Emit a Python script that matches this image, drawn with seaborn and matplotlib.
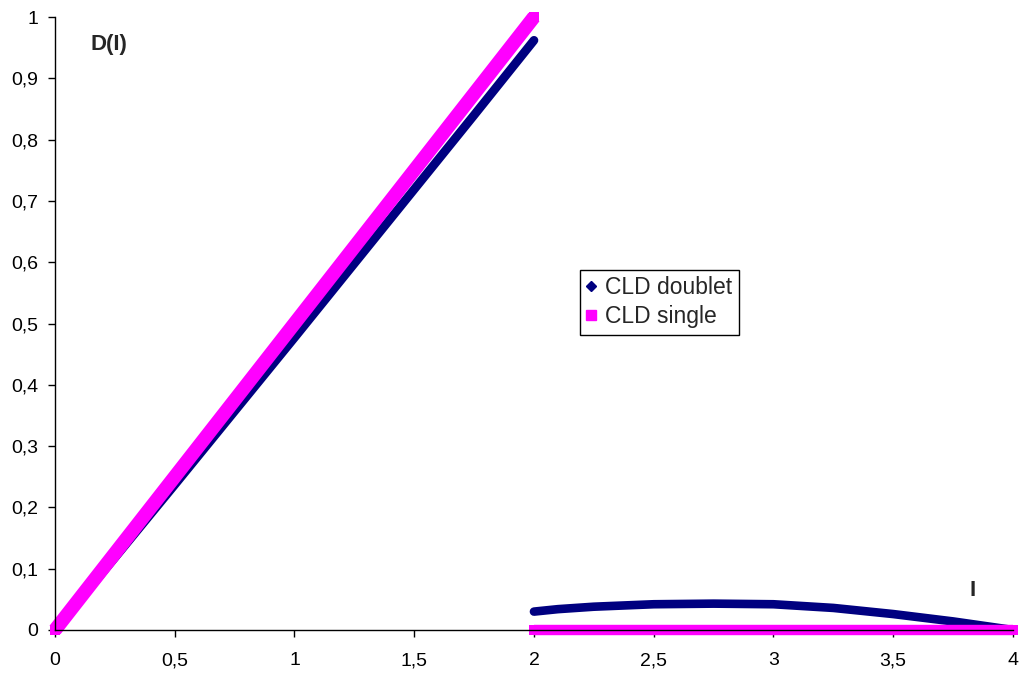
import numpy as np
import pandas as pd
import matplotlib
matplotlib.use("Agg")
import matplotlib.pyplot as plt
from matplotlib.lines import Line2D
from matplotlib.ticker import FuncFormatter, MultipleLocator
import seaborn as sns

# ── Données ──────────────────────────────────────────────────────────────────
# CLD doublet : deux branches (saut en I = 2)
doublet_x1 = [0.0, 0.25, 0.5, 0.75, 1.0, 1.25, 1.5, 1.75, 2.0]
doublet_y1 = [0.0, 0.118, 0.237, 0.357, 0.477, 0.598, 0.719, 0.840, 0.962]
doublet_x2 = [2.0, 2.1, 2.25, 2.5, 2.75, 3.0, 3.25, 3.5, 3.75, 4.0]
doublet_y2 = [0.030, 0.034, 0.038, 0.042, 0.043, 0.042, 0.036, 0.026, 0.014, 0.0]

# CLD single : droite jusqu'à 2 puis nulle
single_x1 = [0.0, 0.5, 1.0, 1.5, 2.0]
single_y1 = [0.0, 0.25, 0.5, 0.75, 1.0]
single_x2 = [2.0, 2.5, 3.0, 3.5, 4.0]
single_y2 = [0.0, 0.0, 0.0, 0.0, 0.0]

NAVY = "#000080"
MAGENTA = "#FF00FF"


def frame(name, segs):
    rows = []
    for k, (xs, ys) in enumerate(segs):
        rows += [{"serie": name, "seg": k, "I": x, "D": y} for x, y in zip(xs, ys)]
    return pd.DataFrame(rows)


df_doublet = frame("CLD doublet", [(doublet_x1, doublet_y1), (doublet_x2, doublet_y2)])
df_single = frame("CLD single", [(single_x1, single_y1), (single_x2, single_y2)])

sns.set_theme(style="white")
plt.rcParams["font.family"] = ["Liberation Sans", "DejaVu Sans"]

fig = plt.figure(figsize=(10.24, 6.73), dpi=100)
ax = fig.add_axes([0.0537, 0.0639, 0.9355, 0.9108])

# ── Courbes (bandes épaisses comme les marqueurs serrés d'Excel) ─────────────
# la bande diagonale paraît plus large que l'horizontale (marqueurs carrés)
sns.lineplot(data=df_doublet, x="I", y="D", units="seg", estimator=None, sort=False,
             color=NAVY, size="seg", sizes={0: 6.3, 1: 6.2}, ax=ax, legend=False,
             solid_capstyle="round", clip_on=False)
sns.lineplot(data=df_single, x="I", y="D", units="seg", estimator=None, sort=False,
             color=MAGENTA, size="seg", sizes={0: 10.0, 1: 7.5}, ax=ax, legend=False,
             solid_capstyle="butt", clip_on=False)
# extrémités carrées (marqueurs alignés sur les axes)
for xs, ys in [(single_x1, single_y1), (single_x2, single_y2)]:
    ax.plot([xs[0], xs[-1]], [ys[0], ys[-1]], linestyle="none", marker="s",
            markersize=7.5, color=MAGENTA, markeredgewidth=0, clip_on=False)

# ── Axes ─────────────────────────────────────────────────────────────────────
ax.set_xlim(0, 4)
ax.set_ylim(0, 1)
ax.xaxis.set_major_locator(MultipleLocator(0.5))
ax.yaxis.set_major_locator(MultipleLocator(0.1))
fmt = FuncFormatter(lambda v, p: f"{v:g}".replace(".", ","))
ax.xaxis.set_major_formatter(fmt)
ax.yaxis.set_major_formatter(fmt)
ax.set_xlabel("")
ax.set_ylabel("")
for side in ("top", "right"):
    ax.spines[side].set_visible(False)
for side in ("left", "bottom"):
    ax.spines[side].set_color("black")
    ax.spines[side].set_linewidth(1.0)
ax.tick_params(axis="both", which="major", direction="out", length=5, width=1,
               color="black", labelsize=14, labelcolor="black",
               bottom=True, left=True)
ax.tick_params(axis="x", pad=11)
ax.tick_params(axis="y", pad=7)

ax.text(0.225, 0.955, "D(I)", fontsize=16, fontweight="bold",
        ha="center", va="center")
ax.text(3.83, 0.065, "I", fontsize=16, fontweight="bold",
        ha="center", va="center")

# ── Légende ──────────────────────────────────────────────────────────────────
handles = [
    Line2D([], [], linestyle="none", marker="D", markersize=5.5, color=NAVY),
    Line2D([], [], linestyle="none", marker="s", markersize=7, color=MAGENTA),
]
leg = ax.legend(handles, ["CLD doublet", "CLD single"], loc="upper left",
                bbox_to_anchor=(0.548, 0.588), fontsize=16.5, frameon=True,
                fancybox=False, edgecolor="black", framealpha=1,
                handlelength=0.4, handletextpad=0.4, borderpad=0.3,
                labelspacing=0.25, borderaxespad=0)
leg.get_frame().set_linewidth(1.0)

fig.savefig("out.png", dpi=100)
